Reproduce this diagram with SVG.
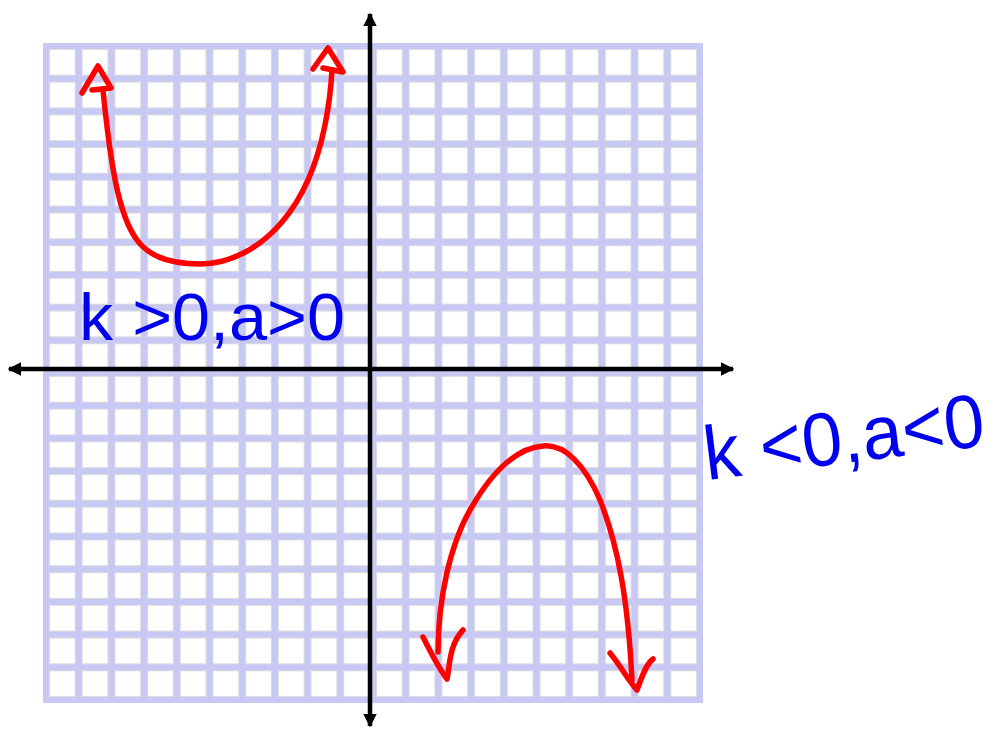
<svg xmlns="http://www.w3.org/2000/svg" width="1003" height="731" viewBox="0 0 1003 731">
<style>
.axis{stroke:#000;stroke-width:4.5;fill:none}
.curve{stroke:#ff0000;stroke-width:5.5;fill:none;stroke-linecap:round;stroke-linejoin:round}
.lbl{font-family:"Liberation Sans",Arial,sans-serif;fill:#0000ee}
</style>
<defs>
<pattern id="cell" patternUnits="userSpaceOnUse" x="43" y="43" width="32.7" height="32.7">
<rect width="32.7" height="32.7" fill="#c8c8f4"/>
<rect x="6.5" y="6.5" width="25.7" height="25.7" fill="#fff" stroke="#dcdcdc" stroke-width="1"/>
</pattern>
<marker id="ah" viewBox="0 0 10 10" refX="9" refY="5" markerWidth="3" markerHeight="3" orient="auto-start-reverse" markerUnits="strokeWidth">
<path d="M0,0 L10,5 L0,10 Z" fill="#000"/>
</marker>
</defs>
<g id="grid">
<rect x="43" y="43" width="660" height="660" fill="#c8c8f4"/>
<rect x="43" y="43" width="654" height="654" fill="url(#cell)"/>
</g>
<g id="connectors">
<line class="axis" x1="370" y1="726" x2="370" y2="14" marker-end="url(#ah)" marker-start="url(#ah)"/>
<line class="axis" x1="9" y1="369" x2="733" y2="369" marker-end="url(#ah)" marker-start="url(#ah)"/>
</g>
<g id="curve-upper">
<path class="curve" d="M103,90 C110,160 118,215 137,240 C150,258 175,264 200,264 C230,264 260,248 282,222 C305,195 318,160 325,125 C329,105 331,88 332,70"/>
<path class="curve" d="M82,93 L98,66 L111,88 L92,90"/>
<path class="curve" d="M313,69 L328,48 L343,72 L323,68"/>
</g>
<g id="curve-lower">
<path class="curve" d="M438,652 C438,600 450,545 470,510 C490,475 515,448 543,446 C565,444 585,465 600,500 C618,545 628,600 632,680"/>
<path class="curve" d="M423,637 C432,655 440,670 447,679 C450,665 449,645 463,630"/>
<path class="curve" d="M610,653 C620,665 628,680 637,690 C641,680 645,665 653,659"/>
</g>
<g id="label-positive">
<text class="lbl" x="79" y="340" font-size="66" textLength="266" lengthAdjust="spacingAndGlyphs">k &gt;0,a&gt;0</text>
</g>
<g id="label-negative">
<text class="lbl" x="707" y="480" font-size="76" textLength="282" lengthAdjust="spacingAndGlyphs" transform="rotate(-7 707 480)">k &lt;0,a&lt;0</text>
</g>
</svg>
